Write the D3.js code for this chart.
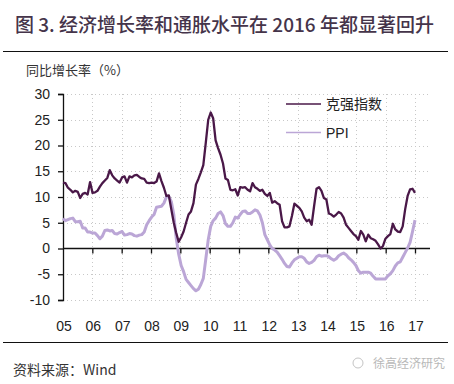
<!DOCTYPE html>
<html lang="zh">
	<head>
		<meta charset="utf-8">
		<script type="text/javascript" src="https://cdn.jsdelivr.net/npm/d3@7"></script>
		<style type="text/css">
			body { margin: 0; background: #fff; }
			.axis text { font-family: "Liberation Sans", Arial, sans-serif; font-size: 14px; fill: #222; }
		</style>
	</head>
	<body>
		<script type="text/javascript">

			//Width and height
			var w = 454;
			var h = 384;

			//Tick labels
			var yearLabels = ["05", "06", "07", "08", "09", "10", "11", "12", "13", "14", "15", "16", "17"];
			var yTicks = [-10, -5, 0, 5, 10, 15, 20, 25, 30];

			//Monthly values, Jan 2005 to Dec 2016
			var keqiang = [
				12.8, 12.7, 11.8, 11.4, 10.9, 11.2, 11.0, 9.8, 10.6, 10.8, 10.5, 12.9,
				10.8, 10.9, 11.2, 12.0, 12.7, 13.2, 13.7, 15.2, 14.2, 13.6, 13.2, 12.8,
				13.8, 14.0, 12.8, 14.0, 13.8, 14.2, 14.3, 13.9, 13.6, 13.5, 12.8, 12.7,
				12.8, 12.7, 13.0, 14.6, 13.1, 11.8, 10.2, 10.3, 7.6, 5.0, 3.0, 1.3,
				2.2, 3.3, 5.0, 6.6, 7.2, 8.8, 12.4, 13.5, 14.8, 16.2, 20.5, 25.0,
				26.4, 25.3, 21.0, 19.5, 18.2, 16.5, 13.6, 13.3, 11.4, 11.3, 11.5, 10.3,
				11.9, 11.8, 11.9, 11.4, 11.1, 12.7, 11.9, 11.6, 11.2, 11.4, 10.6, 10.2,
				10.8, 8.9, 9.2, 8.8, 8.5, 5.3, 4.1, 4.1, 4.3, 6.3, 8.7, 8.3,
				7.9, 7.2, 6.0, 5.3, 5.6, 4.6, 8.2, 11.6, 11.9, 11.2, 9.8, 9.5,
				6.8, 6.6, 6.2, 6.6, 7.1, 6.8, 6.0, 4.6, 4.0, 3.4, 2.8, 2.4,
				1.7, 3.4, 2.7, 1.4, 2.7, 2.0, 1.8, 1.5, 0.8, 0.0, 0.5, 1.9,
				2.4, 2.8, 4.8, 3.7, 3.3, 3.2, 4.3, 7.6, 10.2, 11.5, 11.6, 10.8
			];
			var ppi = [
				5.8, 5.4, 5.6, 5.8, 5.9, 5.2, 5.2, 5.3, 4.0, 4.0, 3.2, 3.2,
				3.0, 3.0, 2.5, 1.9, 2.4, 3.5, 3.6, 3.4, 3.5, 2.9, 2.8, 3.1,
				3.3, 2.6, 2.7, 2.9, 2.8, 2.5, 2.4, 2.6, 2.7, 3.2, 4.6, 5.4,
				6.1, 6.6, 8.0, 8.1, 8.2, 8.8, 10.0, 10.1, 9.1, 6.6, 2.0, -1.1,
				-3.3, -4.5, -6.0, -6.6, -7.2, -7.8, -8.2, -7.9, -7.0, -5.8, -2.1, 1.7,
				4.3, 5.4, 5.9, 6.8, 7.1, 6.4, 4.8, 4.3, 4.3, 5.0, 6.1, 5.9,
				6.6, 7.2, 7.3, 6.8, 6.8, 7.1, 7.5, 7.3, 6.5, 5.0, 2.7, 1.7,
				0.7, 0.0, -0.3, -0.7, -1.4, -2.1, -2.9, -3.5, -3.6, -2.8, -2.2, -1.9,
				-1.6, -1.6, -1.9, -2.6, -2.9, -2.7, -2.3, -1.6, -1.3, -1.5, -1.4, -1.4,
				-1.6, -2.0, -2.3, -2.0, -1.4, -1.1, -0.9, -1.2, -1.8, -2.2, -2.7, -3.3,
				-4.3, -4.8, -4.6, -4.6, -4.6, -4.8, -5.4, -5.9, -5.9, -5.9, -5.9, -5.9,
				-5.3, -4.9, -4.3, -3.4, -2.8, -2.6, -1.7, -0.8, 0.1, 1.2, 3.3, 5.5
			];

			var seriesNames = ["克强指数", "PPI"];
			var seriesColors = ["#4a1848", "#bba6d6"];

			//Plot area
			var plotLeft = 63, plotRight = 430, plotTop = 94, plotBottom = 300;

			//Create scale functions
			var n = keqiang.length;
			var xScale = d3.scaleLinear()
						   .domain([0, n - 1])
						   .range([plotLeft, 415]);

			var yScale = d3.scaleLinear()
						   .domain([-10, 30])
						   .range([plotBottom, plotTop]);

			var tickPos = yearLabels.map(function(d, i) { return i * (n - 1) / (yearLabels.length - 1); });

			//Create SVG element
			var svg = d3.select("body")
						.append("svg")
						.attr("width", w)
						.attr("height", h);

			//Title
			svg.append("text")
			   .attr("x", 15)
			   .attr("y", 32)
			   .attr("font-family", "'Noto Sans CJK SC', sans-serif")
			   .attr("font-size", "19px")
			   .attr("font-weight", "500")
			   .attr("fill", "#45344a")
			   .text("图 3. 经济增长率和通胀水平在 2016 年都显著回升");

			//Rules above and below the chart
			svg.append("line")
			   .attr("x1", 3).attr("x2", 448)
			   .attr("y1", 51.5).attr("y2", 51.5)
			   .attr("stroke", "#111").attr("stroke-width", 1.2);
			svg.append("line")
			   .attr("x1", 3).attr("x2", 448)
			   .attr("y1", 342.5).attr("y2", 342.5)
			   .attr("stroke", "#111").attr("stroke-width", 1.2);

			//Unit label
			svg.append("text")
			   .attr("x", 26)
			   .attr("y", 75)
			   .attr("font-family", "'Noto Sans CJK SC', sans-serif")
			   .attr("font-size", "13px")
			   .attr("fill", "#333")
			   .text("同比增长率（%）");

			//Dotted gridlines
			svg.append("g")
			   .selectAll("line")
			   .data(yTicks.filter(function(d) { return d !== 0; }))
			   .enter()
			   .append("line")
			   .attr("x1", plotLeft).attr("x2", plotRight)
			   .attr("y1", function(d) { return Math.round(yScale(d)) + 0.5; })
			   .attr("y2", function(d) { return Math.round(yScale(d)) + 0.5; })
			   .attr("stroke", "#c8c8c8")
			   .attr("stroke-dasharray", "1,3");

			svg.append("g")
			   .selectAll("line")
			   .data(tickPos.slice(1))
			   .enter()
			   .append("line")
			   .attr("x1", function(d) { return Math.round(xScale(d)) + 0.5; })
			   .attr("x2", function(d) { return Math.round(xScale(d)) + 0.5; })
			   .attr("y1", plotTop).attr("y2", plotBottom)
			   .attr("stroke", "#c8c8c8")
			   .attr("stroke-dasharray", "1,3");

			//Define Y axis
			var yAxis = d3.axisLeft(yScale)
						  .tickValues(yTicks)
						  .tickSize(5)
						  .tickPadding(8)
						  .tickFormat(function(d) { return d; });

			var gy = svg.append("g")
			   .attr("class", "axis")
			   .attr("transform", "translate(" + plotLeft + ",0)")
			   .call(yAxis);
			gy.select(".domain").attr("stroke", "#111").attr("stroke-width", 1.3);
			gy.selectAll(".tick line").attr("stroke", "#111").attr("stroke-width", 1.3);
			gy.selectAll(".tick text").attr("fill", "#222");

			//Define X axis at zero
			var xAxis = d3.axisBottom(xScale)
						  .tickValues(tickPos.slice(1))
						  .tickSize(5)
						  .tickSizeOuter(0)
						  .tickFormat("");

			var gx = svg.append("g")
			   .attr("class", "axis")
			   .attr("transform", "translate(0," + yScale(0) + ")")
			   .call(xAxis);
			gx.select(".domain").remove();
			gx.selectAll(".tick line").attr("stroke", "#111").attr("stroke-width", 1.3);
			gx.append("line")
			  .attr("x1", plotLeft).attr("x2", plotRight)
			  .attr("y1", 0).attr("y2", 0)
			  .attr("stroke", "#111").attr("stroke-width", 1.3);

			//Year labels at the bottom
			svg.append("g")
			   .selectAll("text")
			   .data(yearLabels)
			   .enter()
			   .append("text")
			   .attr("x", function(d, i) { return xScale(tickPos[i]) + 1; })
			   .attr("y", 331)
			   .attr("text-anchor", "middle")
			   .attr("font-family", "'Liberation Sans', Arial, sans-serif")
			   .attr("font-size", "14px")
			   .attr("fill", "#222")
			   .text(function(d) { return d; });

			//Lines
			var line = d3.line()
						 .x(function(d, i) { return xScale(i); })
						 .y(function(d) { return yScale(d); });

			svg.append("path")
			   .datum(ppi)
			   .attr("d", line)
			   .attr("fill", "none")
			   .attr("stroke", seriesColors[1])
			   .attr("stroke-width", 3)
			   .attr("stroke-linejoin", "round");

			svg.append("path")
			   .datum(keqiang)
			   .attr("d", line)
			   .attr("fill", "none")
			   .attr("stroke", seriesColors[0])
			   .attr("stroke-width", 2.3)
			   .attr("stroke-linejoin", "round");

			//Legend
			var legend = svg.append("g")
							.selectAll("g")
							.data(seriesNames)
							.enter()
							.append("g")
							.attr("transform", function(d, i) { return "translate(286," + (104 + i * 28.5) + ")"; });

			legend.append("line")
				  .attr("x1", 0).attr("x2", 35)
				  .attr("stroke", function(d, i) { return seriesColors[i]; })
				  .attr("stroke-width", 1.5);

			legend.append("text")
				  .attr("x", 40)
				  .attr("y", 5)
				  .attr("font-family", function(d, i) { return i === 0 ? "'Noto Sans CJK SC', sans-serif" : "'Liberation Sans', Arial, sans-serif"; })
				  .attr("font-size", "14px")
				  .attr("fill", "#222")
				  .text(function(d) { return d; });

			//Source note
			svg.append("text")
			   .attr("x", 13)
			   .attr("y", 375)
			   .attr("font-family", "'Noto Sans CJK SC', serif")
			   .attr("font-size", "14px")
			   .attr("fill", "#333")
			   .text("资料来源：Wind");

			//Watermark
			svg.append("circle")
			   .attr("cx", 358).attr("cy", 363).attr("r", 5)
			   .attr("fill", "none").attr("stroke", "#c4c4c4").attr("stroke-width", 1);
			svg.append("text")
			   .attr("x", 373)
			   .attr("y", 368)
			   .attr("font-family", "'Noto Sans CJK SC', sans-serif")
			   .attr("font-size", "12px")
			   .attr("fill", "#b8b8b8")
			   .text("徐高经济研究");

		</script>
	</body>
</html>
